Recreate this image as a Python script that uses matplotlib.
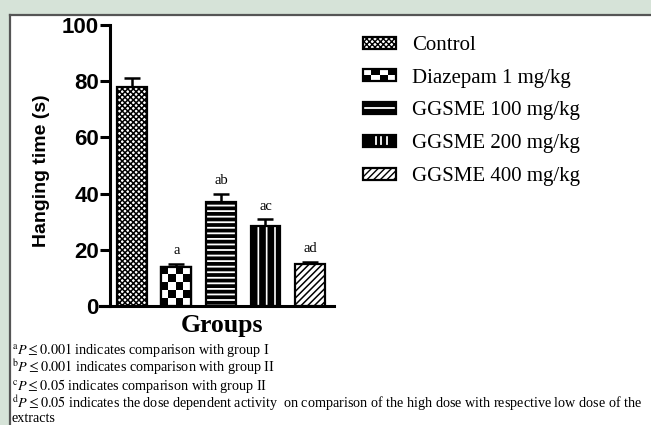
import numpy as np
import matplotlib
matplotlib.use("Agg")
import matplotlib.pyplot as plt
from matplotlib.patches import Rectangle, Patch
from matplotlib.legend_handler import HandlerBase
from matplotlib.lines import Line2D

# ---- data ----
groups = ['Control', 'Diazepam 1 mg/kg', 'GGSME 100 mg/kg', 'GGSME 200 mg/kg', 'GGSME 400 mg/kg']
means = [78, 14, 37, 28.3, 15]
errs = [3, 1, 3, 2.5, 0.8]
sig_labels = ['', 'a', 'ab', 'ac', 'ad']
yticks = [0, 20, 40, 60, 80, 100]
footnotes = [
    r'$^{\mathrm{a}}P \leq 0.001$ indicates comparison with group I',
    r'$^{\mathrm{b}}P \leq 0.001$ indicates comparison with group II',
    r'$^{\mathrm{c}}P \leq 0.05$ indicates comparison with group II',
    r'$^{\mathrm{d}}P \leq 0.05$ indicates the dose dependent activity  on comparison of the high dose with respective low dose of the',
    'extracts',
]

# styles: (hatch, hatch linewidth)
styles = [('xxxxxx', 1.1), (None, 1.0), ('---', 2.7), ('||', 4.8), ('/////', 1.1)]

plt.rcParams['mathtext.fontset'] = 'stix'
W, H = 651, 425
fig = plt.figure(figsize=(W / 100, H / 100), dpi=100, facecolor='#d6e3d8')

# white panel with border
fig.add_artist(Rectangle((10 / W, 0), 1 - 10 / W, 1 - 15 / H, transform=fig.transFigure,
                         facecolor='white', edgecolor='none', zorder=0))
fig.add_artist(Line2D([10 / W, 1], [1 - 15 / H, 1 - 15 / H], transform=fig.transFigure,
                      color='#555555', lw=1.6, zorder=1))
fig.add_artist(Line2D([10 / W, 10 / W], [0, 1 - 15 / H], transform=fig.transFigure,
                      color='#555555', lw=1.6, zorder=1))

AX_L, AX_R, AX_T, AX_B = 110, 334, 25, 306
ax = fig.add_axes([AX_L / W, 1 - AX_B / H, (AX_R - AX_L) / W, (AX_B - AX_T) / H])
ax.set_facecolor('none')

x = np.arange(len(groups))
bw = 0.67
bars = []
for i in range(len(groups)):
    hatch, hlw = styles[i]
    with plt.rc_context({'hatch.linewidth': hlw}):
        b = ax.bar(x[i], means[i], width=bw, color='white', edgecolor='black',
                   hatch=hatch, linewidth=1.6, zorder=2)[0]
    bars.append(b)

# checkerboard fill for Diazepam
b = bars[1]
bx, bwid, bh = b.get_x(), b.get_width(), b.get_height()
ncol = 4
nrow = max(1, int(round(bh / 2.7)))
checker = (np.indices((nrow, ncol)).sum(axis=0) % 2).astype(float)
im = ax.imshow(checker, cmap='gray', extent=[bx, bx + bwid, 0, bh], aspect='auto',
               interpolation='nearest', zorder=2.5, origin='lower')
im.set_clip_path(b)
ax.bar(x[1], means[1], width=bw, color='none', edgecolor='black', linewidth=1.6, zorder=3)

ax.errorbar(x, means, yerr=[np.zeros(len(errs)), errs], fmt='none', ecolor='black',
            elinewidth=1.8, capsize=5.5, capthick=1.8, zorder=1)

for i, lab in enumerate(sig_labels):
    if lab:
        ax.annotate(lab, (x[i], means[i] + errs[i]), xytext=(0, 5), textcoords='offset points',
                    ha='center', va='bottom', fontsize=10.5, family='Liberation Serif')

ax.set_xlim(-0.49, 4.54)
ax.set_ylim(0, 100)
ax.set_yticks(yticks)
ax.set_xticks([])
for s in ['top', 'right']:
    ax.spines[s].set_visible(False)
for s in ['left', 'bottom']:
    ax.spines[s].set_linewidth(2.2)
ax.spines['bottom'].set_bounds(-0.49 - 10 / 44.5, 4.54)
ax.spines['bottom'].set_clip_on(False)
ax.tick_params(axis='y', length=7, width=2.2, labelsize=16, pad=1)
for t in ax.get_yticklabels():
    t.set_fontweight('bold')
    t.set_family('Liberation Sans')
ax.set_ylabel('Hanging time (s)', fontsize=14, fontweight='bold', family='Liberation Sans')
ax.yaxis.set_label_coords(-0.27, 0.48)
ax.set_xlabel('Groups', fontsize=18.5, fontweight='bold', family='Liberation Serif', labelpad=6)


class FuncHandler(HandlerBase):
    def __init__(self, kind):
        super().__init__()
        self.kind = kind

    def create_artists(self, legend, orig_handle, xdescent, ydescent, width, height, fontsize, trans):
        x0, y0 = -xdescent, -ydescent
        arts = []
        if self.kind == 'checker':
            nc, nr = 4, 2
            for i in range(nc):
                for j in range(nr):
                    col = 'black' if (i + j) % 2 == 0 else 'white'
                    arts.append(Rectangle((x0 + i * width / nc, y0 + j * height / nr),
                                          width / nc, height / nr, facecolor=col, edgecolor='none',
                                          transform=trans))
        else:
            arts.append(Rectangle((x0, y0), width, height, facecolor='black', edgecolor='none',
                                  transform=trans))
            if self.kind == 'hline':
                arts.append(Line2D([x0 + 1.5, x0 + width - 1.5], [y0 + height / 2] * 2,
                                   color='white', lw=1.3, transform=trans))
            elif self.kind == 'vline':
                for f in (0.38, 0.55, 0.72):
                    arts.append(Line2D([x0 + f * width] * 2, [y0 + 0.2 * height, y0 + 0.8 * height],
                                       color='white', lw=1.3, transform=trans))
        arts.append(Rectangle((x0, y0), width, height, fill=False,
                              edgecolor='black', lw=1.6, transform=trans))
        return arts


handles = []
for i in range(len(groups)):
    hatch, hlw = styles[i]
    with plt.rc_context({'hatch.linewidth': hlw}):
        handles.append(Patch(facecolor='white', edgecolor='black', hatch=hatch, linewidth=1.6))

hmap = {handles[1]: FuncHandler('checker'), handles[2]: FuncHandler('hline'),
        handles[3]: FuncHandler('vline')}
leg = fig.legend(handles, groups, loc='upper left', bbox_to_anchor=(363 / W, 1 - 36 / H),
                 frameon=False, prop={'family': 'Liberation Serif', 'size': 15},
                 handlelength=1.6, handleheight=0.5, handletextpad=0.75, labelspacing=0.66,
                 borderpad=0, borderaxespad=0, handler_map=hmap)

fig.text(12 / W, 1 - 341 / H, '\n'.join(footnotes), ha='left', va='top', fontsize=10.2,
         family='Liberation Serif', linespacing=0.93)

fig.savefig('out.png', dpi=100, facecolor=fig.get_facecolor())
